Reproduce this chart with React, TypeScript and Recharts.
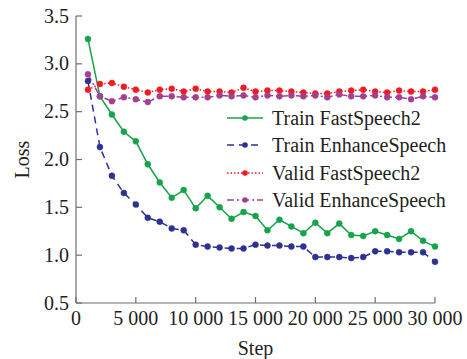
import { Legend, Line, LineChart, XAxis, YAxis } from 'recharts'

const steps = [
  1000, 2000, 3000, 4000, 5000, 6000, 7000, 8000, 9000, 10000,
  11000, 12000, 13000, 14000, 15000, 16000, 17000, 18000, 19000, 20000,
  21000, 22000, 23000, 24000, 25000, 26000, 27000, 28000, 29000, 30000,
]
const trainFast = [
  3.26, 2.66, 2.47, 2.29, 2.19, 1.95, 1.76, 1.6, 1.68, 1.49,
  1.62, 1.5, 1.38, 1.45, 1.41, 1.26, 1.37, 1.3, 1.23, 1.34,
  1.23, 1.33, 1.21, 1.2, 1.25, 1.21, 1.17, 1.25, 1.15, 1.09,
]
const trainEnhance = [
  2.82, 2.13, 1.83, 1.65, 1.53, 1.39, 1.35, 1.28, 1.26, 1.11,
  1.09, 1.08, 1.07, 1.07, 1.11, 1.1, 1.1, 1.09, 1.09, 0.98,
  0.98, 0.98, 0.97, 0.98, 1.04, 1.04, 1.03, 1.03, 1.03, 0.93,
]
const validFast = [
  2.73, 2.79, 2.8, 2.76, 2.73, 2.7, 2.73, 2.74, 2.71, 2.74,
  2.71, 2.71, 2.7, 2.75, 2.71, 2.72, 2.72, 2.71, 2.7, 2.69,
  2.69, 2.71, 2.72, 2.73, 2.71, 2.7, 2.72, 2.71, 2.71, 2.73,
]
const validEnhance = [
  2.89, 2.66, 2.61, 2.65, 2.63, 2.6, 2.66, 2.66, 2.65, 2.65,
  2.65, 2.67, 2.66, 2.67, 2.65, 2.67, 2.66, 2.67, 2.66, 2.67,
  2.65, 2.68, 2.66, 2.66, 2.67, 2.65, 2.65, 2.63, 2.66, 2.65,
]
const xTicks = [0, 5000, 10000, 15000, 20000, 25000, 30000]
const yTicks = [0.5, 1.0, 1.5, 2.0, 2.5, 3.0, 3.5]

const data = steps.map((s, i) => ({
  step: s,
  trainFast: trainFast[i],
  trainEnhance: trainEnhance[i],
  validFast: validFast[i],
  validEnhance: validEnhance[i],
}))

const SERIES = [
  { key: 'trainFast', name: 'Train FastSpeech2', color: '#17a34a', dash: undefined },
  { key: 'trainEnhance', name: 'Train EnhanceSpeech', color: '#2e3192', dash: '7 5' },
  { key: 'validFast', name: 'Valid FastSpeech2', color: '#ed1c24', dash: '1.5 2' },
  { key: 'validEnhance', name: 'Valid EnhanceSpeech', color: '#a3408f', dash: '7 3 2 3' },
]

const FONT = '"Liberation Serif", "Times New Roman", serif'
const TEXT = '#231f20'
const AXIS = '#6d6e71'

const fmtStep = (v: number) => (v >= 1000 ? `${Math.floor(v / 1000)} ${String(v % 1000).padStart(3, '0')}` : String(v))

function XTick({ x, y, payload }: any) {
  return (
    <g>
      <line x1={x} x2={x} y1={y} y2={y - 6} stroke={AXIS} strokeWidth={1.2} />
      <text x={x} y={y + 22} textAnchor="middle" fontFamily={FONT} fontSize={20} fill={TEXT}>
        {fmtStep(payload.value)}
      </text>
    </g>
  )
}

function YTick({ x, y, payload }: any) {
  return (
    <g>
      <line x1={x} x2={x + 6} y1={y} y2={y} stroke={AXIS} strokeWidth={1.2} />
      <text x={x - 7} y={y + 6.5} textAnchor="end" fontFamily={FONT} fontSize={20} fill={TEXT}>
        {payload.value.toFixed(1)}
      </text>
    </g>
  )
}

function LegendBox() {
  return (
    <div style={{ fontFamily: FONT, fontSize: 20, color: TEXT }}>
      {SERIES.map((s) => (
        <div key={s.key} style={{ display: 'flex', alignItems: 'center', height: 27.3 }}>
          <svg width={38} height={10} style={{ marginRight: 8 }}>
            <line x1={1} x2={37} y1={5} y2={5} stroke={s.color} strokeWidth={1.5} strokeDasharray={s.dash} />
            <circle cx={19} cy={5} r={2.8} fill={s.color} />
          </svg>
          <span style={{ lineHeight: '20px' }}>{s.name}</span>
        </div>
      ))}
    </div>
  )
}

export default function App() {
  return (
    <div style={{ position: 'absolute', left: 0, top: 0, width: 467, height: 359, background: '#fff' }}>
      <LineChart width={467} height={359} data={data} margin={{ top: 16, right: 32, bottom: 0, left: 0 }}>
        <XAxis
          dataKey="step"
          type="number"
          domain={[0, 30000]}
          ticks={xTicks}
          height={56}
          tickSize={0}
          tickMargin={0}
          tickLine={false}
          axisLine={{ stroke: AXIS, strokeWidth: 1.2 }}
          tick={<XTick />}
          interval={0}
          label={{
            content: ({ viewBox }: any) => (
              <text x={viewBox.x + viewBox.width / 2} y={viewBox.y + 51.5} textAnchor="middle" fontFamily={FONT} fontSize={20} fill={TEXT}>
                Step
              </text>
            ),
          }}
        />
        <YAxis
          type="number"
          domain={[0.5, 3.5]}
          ticks={yTicks}
          width={76}
          tickSize={0}
          tickMargin={0}
          tickLine={false}
          axisLine={{ stroke: AXIS, strokeWidth: 1.2 }}
          tick={<YTick />}
          interval={0}
          label={{
            content: ({ viewBox }: any) => {
              const cx = viewBox.x + 22
              const cy = viewBox.y + viewBox.height / 2
              return (
                <text x={cx} y={cy} transform={`rotate(-90 ${cx} ${cy})`} textAnchor="middle" dominantBaseline="central" fontFamily={FONT} fontSize={20} fill={TEXT}>
                  Loss
                </text>
              )
            },
          }}
        />
        <Legend
          layout="vertical"
          verticalAlign="middle"
          align="center"
          content={<LegendBox />}
          wrapperStyle={{ top: 104.5, left: 226, width: 240 }}
        />
        {SERIES.map((s) => (
          <Line
            key={s.key}
            dataKey={s.key}
            name={s.name}
            type="linear"
            stroke={s.color}
            strokeWidth={1.5}
            strokeDasharray={s.dash}
            dot={{ r: 3, fill: s.color, stroke: s.color, strokeWidth: 0.5, strokeDasharray: '' }}
            isAnimationActive={false}
          />
        ))}
      </LineChart>
    </div>
  )
}
